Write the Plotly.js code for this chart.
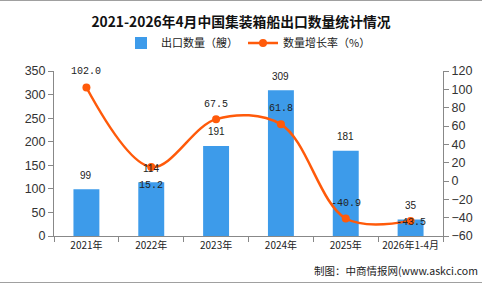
<!DOCTYPE html>
<html>
<head>
<meta charset="utf-8">
<script src="https://cdn.plot.ly/plotly-3.0.1.min.js"></script>
<style>
  html, body { margin: 0; padding: 0; background: #fff; }
  #wrap { position: relative; width: 482px; height: 284px; overflow: hidden; }
  #chart { width: 482px; height: 284px; }
  .rule { position: absolute; left: 0; width: 482px; height: 1px; background: #a0a0a0; }
</style>
</head>
<body>
<div id="wrap">
  <div id="chart"></div>
  <div class="rule" style="top:0"></div>
  <div class="rule" style="top:282px"></div>
</div>
<script>
// 2021–2026 (Jan–Apr) container ship exports from China
const categories = ['2021年', '2022年', '2023年', '2024年', '2025年', '2026年1-4月'];
const exportCount = [99, 114, 191, 309, 181, 35];           // ships
const growthRate = [102.0, 15.2, 67.5, 61.8, -40.9, -43.5];  // %
const leftTicks = [0, 50, 100, 150, 200, 250, 300, 350];
const rightTicks = [-60, -40, -20, 0, 20, 40, 60, 80, 100, 120];

// vertical pixel offsets of the growth-rate labels relative to their points
const growthLabelShift = [16, -18, 15, 16, 15, -2];

const labelFont = { family: 'Liberation Sans, Arial', size: 10, color: '#222' };
const monoFont = { family: 'Liberation Mono, DejaVu Sans Mono, monospace', size: 10, color: '#222' };
const cjk = 'Noto Sans CJK SC, sans-serif';

const bars = {
  type: 'bar',
  name: '出口数量（艘）',
  x: categories,
  y: exportCount,
  marker: { color: '#3d9bea' },
  hoverinfo: 'skip'
};

const line = {
  type: 'scatter',
  mode: 'lines+markers',
  name: '数量增长率（%）',
  x: categories,
  y: growthRate,
  yaxis: 'y2',
  line: { color: '#ff5a0a', width: 2.5, shape: 'spline', smoothing: 1.0 },
  marker: { color: '#ff5a0a', size: 8 },
  cliponaxis: false,
  hoverinfo: 'skip'
};

const annotations = [];
categories.forEach((c, i) => {
  annotations.push({
    x: c, y: exportCount[i], xref: 'x', yref: 'y',
    text: String(exportCount[i]), showarrow: false,
    yanchor: 'middle', yshift: 14, font: labelFont
  });
  annotations.push({
    x: c, y: growthRate[i], xref: 'x', yref: 'y2',
    text: growthRate[i].toFixed(1), showarrow: false,
    yanchor: 'middle', yshift: growthLabelShift[i], font: monoFont
  });
});
annotations.push({
  text: '制图：中商情报网(www.askci.com',
  xref: 'paper', yref: 'paper', x: (480 - 54) / 389, xanchor: 'right',
  y: -34 / 165, yanchor: 'middle', showarrow: false,
  font: { family: cjk, size: 10.5, color: '#222' }
});

const layout = {
  width: 482,
  height: 284,
  margin: { l: 54, r: 39, t: 71, b: 48, autoexpand: false },
  paper_bgcolor: '#fff',
  plot_bgcolor: '#fff',
  showlegend: true,
  bargap: 0.6,
  title: {
    text: '<b>2021-2026年4月中国集装箱船出口数量统计情况</b>',
    x: 0.5, xanchor: 'center', y: 1 - 22 / 284, yanchor: 'middle',
    font: { family: cjk, size: 13.8, color: '#111' }
  },
  legend: {
    orientation: 'h', x: 0.5, xanchor: 'center', y: 1 + 28 / 165, yanchor: 'middle',
    font: { family: cjk, size: 11, color: '#222' },
    itemwidth: 30, tracegroupgap: 0
  },
  xaxis: {
    type: 'category', automargin: false,
    showline: true, linecolor: '#888', linewidth: 1,
    ticks: 'outside', tickson: 'boundaries', ticklen: 5, tickcolor: '#888',
    tickangle: 0,
    tickfont: { family: cjk, size: 10, color: '#222' },
    showgrid: false, zeroline: false, fixedrange: true
  },
  yaxis: {
    range: [0, 350], tickvals: leftTicks, automargin: false,
    showline: true, linecolor: '#888', linewidth: 1,
    ticks: 'outside', ticklen: 5, tickcolor: '#888',
    tickfont: { family: 'Liberation Sans, Arial', size: 12.5, color: '#333' },
    showgrid: false, zeroline: false, fixedrange: true
  },
  yaxis2: {
    overlaying: 'y', side: 'right', automargin: false,
    range: [-60, 120], tickvals: rightTicks,
    showline: true, linecolor: '#888', linewidth: 1,
    ticks: 'outside', ticklen: 5, tickcolor: '#888',
    tickfont: { family: 'Liberation Sans, Arial', size: 12.5, color: '#333' },
    showgrid: false, zeroline: false, fixedrange: true
  },
  annotations: annotations
};

Plotly.newPlot('chart', [bars, line], layout, { displayModeBar: false, staticPlot: true });
</script>
</body>
</html>
